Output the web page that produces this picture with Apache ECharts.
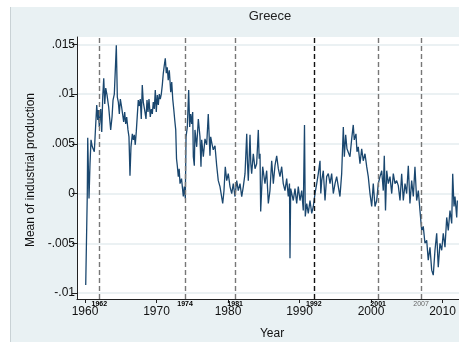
<!DOCTYPE html>
<html>
<head>
<meta charset="utf-8">
<script src="https://cdn.jsdelivr.net/npm/echarts@6/dist/echarts.min.js"></script>
<style>
  html, body { margin: 0; padding: 0; background: #ffffff; }
  #chart { width: 459px; height: 344px; }
</style>
</head>
<body>
<div id="chart"></div>
<script>
// Greece: mean of industrial production over time, with dashed event lines.
const years = [
  1960.10,1960.32,1960.38,1960.56,1960.70,1960.84,1961.02,1961.16,1961.30,1961.47,
  1961.64,1961.78,1961.86,1962.00,1962.20,1962.34,1962.48,1962.62,1962.76,1962.90,
  1963.08,1963.31,1963.59,1963.78,1963.92,1964.10,1964.38,1964.52,1964.66,1964.80,
  1964.94,1965.10,1965.27,1965.41,1965.55,1965.69,1965.83,1966.01,1966.15,1966.29,
  1966.43,1966.62,1966.76,1966.90,1967.03,1967.17,1967.31,1967.45,1967.59,1967.73,
  1967.87,1968.01,1968.15,1968.32,1968.53,1968.67,1968.81,1968.95,1969.13,1969.27,
  1969.41,1969.55,1969.69,1969.83,1969.97,1970.11,1970.25,1970.39,1970.53,1970.67,
  1970.81,1970.95,1971.09,1971.23,1971.37,1971.50,1971.64,1971.79,1971.99,1972.13,
  1972.27,1972.41,1972.55,1972.69,1972.80,1972.91,1973.05,1973.17,1973.29,1973.50,
  1973.75,1973.89,1974.03,1974.13,1974.31,1974.50,1974.64,1974.78,1974.92,1975.06,
  1975.15,1975.29,1975.38,1975.62,1975.85,1976.08,1976.22,1976.32,1976.55,1976.78,
  1977.02,1977.24,1977.48,1977.58,1977.76,1977.94,1978.18,1978.42,1978.64,1978.88,
  1979.26,1979.44,1979.62,1979.82,1980.04,1980.28,1980.52,1980.74,1980.98,1981.22,
  1981.44,1981.68,1981.92,1982.14,1982.38,1982.62,1982.73,1982.84,1983.08,1983.19,
  1983.31,1983.54,1983.78,1984.01,1984.24,1984.36,1984.48,1984.57,1984.85,1985.17,
  1985.41,1985.64,1985.87,1986.11,1986.34,1986.57,1986.81,1987.04,1987.27,1987.51,
  1987.73,1987.97,1988.21,1988.43,1988.60,1988.67,1988.77,1988.91,1989.13,1989.37,
  1989.61,1989.83,1990.07,1990.31,1990.53,1990.70,1990.81,1991.01,1991.23,1991.47,
  1991.71,1991.93,1992.17,1992.41,1992.63,1992.87,1992.98,1993.11,1993.33,1993.57,
  1993.80,1994.03,1994.27,1994.50,1994.73,1994.97,1995.20,1995.43,1995.66,1995.90,
  1996.13,1996.27,1996.46,1996.64,1996.83,1997.06,1997.30,1997.52,1997.66,1997.90,
  1998.04,1998.22,1998.46,1998.70,1998.92,1999.16,1999.40,1999.62,1999.86,2000.10,
  2000.32,2000.56,2000.80,2001.02,2001.26,2001.50,2001.72,2001.86,2002.03,2002.20,
  2002.42,2002.66,2002.90,2003.12,2003.36,2003.59,2003.82,2004.06,2004.29,2004.52,
  2004.76,2004.99,2005.22,2005.45,2005.69,2005.92,2006.15,2006.39,2006.62,2006.85,
  2007.09,2007.31,2007.55,2007.79,2008.01,2008.25,2008.49,2008.71,2008.95,2009.19,
  2009.41,2009.65,2009.89,2010.11,2010.35,2010.59,2010.81,2011.05,2011.29,2011.43,
  2011.61,2011.75,2011.99,2012.08
];
const meanIP = [
  -0.0092,0.0000,0.0056,-0.0005,0.0030,0.0054,0.0047,0.0049,0.0042,0.0043,
  0.0089,0.0074,0.0084,0.0067,0.0085,0.0062,0.0097,0.0116,0.0090,0.0106,
  0.0099,0.0087,0.0064,0.0077,0.0094,0.0100,0.0149,0.0097,0.0092,0.0080,
  0.0095,0.0088,0.0090,0.0072,0.0082,0.0070,0.0077,0.0064,0.0057,0.0018,
  0.0047,0.0060,0.0054,0.0059,0.0049,0.0062,0.0064,0.0094,0.0088,0.0095,
  0.0075,0.0109,0.0092,0.0085,0.0075,0.0094,0.0082,0.0095,0.0077,0.0085,
  0.0080,0.0092,0.0085,0.0104,0.0082,0.0099,0.0089,0.0100,0.0095,0.0100,
  0.0109,0.0121,0.0129,0.0136,0.0121,0.0127,0.0114,0.0124,0.0102,0.0112,
  0.0095,0.0085,0.0074,0.0064,0.0035,0.0028,0.0017,0.0025,0.0010,0.0015,
  -0.0003,0.0007,-0.0005,0.0057,0.0067,0.0104,0.0067,0.0080,0.0070,0.0082,
  0.0037,0.0028,0.0064,0.0047,0.0075,0.0057,0.0027,0.0054,0.0037,0.0055,
  0.0049,0.0080,0.0038,0.0057,0.0050,0.0044,0.0048,0.0028,0.0013,0.0007,
  -0.0010,0.0003,0.0027,0.0013,0.0020,0.0007,0.0000,0.0010,-0.0003,0.0013,
  0.0003,0.0010,-0.0003,0.0007,0.0020,0.0060,0.0030,0.0013,0.0059,0.0030,
  0.0020,0.0040,0.0025,0.0030,0.0064,0.0035,0.0040,-0.0018,0.0027,0.0010,
  0.0023,-0.0010,0.0003,0.0033,0.0010,0.0028,0.0038,0.0025,0.0017,0.0027,
  0.0010,0.0003,0.0015,-0.0003,0.0010,-0.0065,0.0005,0.0003,-0.0007,0.0005,
  -0.0010,0.0007,-0.0007,0.0003,-0.0017,0.0069,-0.0023,-0.0010,-0.0020,-0.0007,
  -0.0020,-0.0013,0.0000,0.0010,0.0020,0.0033,0.0000,0.0013,0.0023,-0.0007,
  0.0017,0.0020,0.0010,0.0020,0.0000,0.0010,0.0017,0.0007,-0.0003,0.0020,
  0.0067,0.0037,0.0059,0.0045,0.0047,0.0037,0.0055,0.0069,0.0054,0.0060,
  0.0042,0.0047,0.0030,0.0045,0.0033,0.0040,0.0027,0.0017,0.0000,-0.0013,
  0.0010,-0.0013,-0.0007,0.0010,0.0017,0.0023,0.0003,0.0038,-0.0017,0.0023,
  0.0010,0.0017,0.0000,0.0020,0.0010,0.0013,0.0008,-0.0007,0.0020,-0.0007,
  0.0010,0.0000,0.0028,-0.0010,0.0013,-0.0003,0.0027,-0.0007,0.0003,-0.0017,
  -0.0037,-0.0033,-0.0050,-0.0047,-0.0067,-0.0054,-0.0077,-0.0082,-0.0057,-0.0040,
  -0.0074,-0.0050,-0.0057,-0.0040,-0.0054,-0.0024,-0.0037,-0.0017,-0.0030,0.0020,
  -0.0013,-0.0003,-0.0024,-0.0007
];

// Event markers drawn as dashed vertical lines
const eventYears = [1962, 1974, 1981, 1992, 2001, 2007];
const eventLabels = ['1962', '1974', '1981', '1992', '2001', '2007'];

// Axis ticks
const xTickValues = [1960, 1970, 1980, 1990, 2000, 2010];
const yTickValues = [-0.01, -0.005, 0, 0.005, 0.01, 0.015];
const yTickLabels = ['-.01', '-.005', '0', '.005', '.01', '.015'];

const points = years.map((y, i) => [y, meanIP[i]]);

const font = 'Liberation Sans, Arial, sans-serif';
const chart = echarts.init(document.getElementById('chart'), null, { renderer: 'canvas' });

const eventStyle = (i) => {
  const black = eventLabels[i] === '1992';
  const faint = eventLabels[i] === '2007';
  return {
    xAxis: eventYears[i],
    lineStyle: { color: black ? '#111111' : '#777777', type: [5, 3], width: 1.4 },
    label: {
      show: true,
      position: 'start',
      distance: 2,
      formatter: eventLabels[i],
      fontFamily: font,
      fontSize: 7,
      fontWeight: faint ? 'normal' : 'bold',
      color: faint ? '#666666' : '#000000'
    }
  };
};

chart.setOption({
  animation: false,
  backgroundColor: '#ffffff',
  graphic: [
    { type: 'rect', z: -10, silent: true, shape: { x: 11, y: 7, width: 448, height: 335 }, style: { fill: '#e9f1f3' } },
    { type: 'line', z: -9, silent: true, shape: { x1: 10.5, y1: 7, x2: 10.5, y2: 342 }, style: { stroke: '#c9d2d5', lineWidth: 1 } },
    { type: 'text', silent: true, style: { text: 'Greece', x: 270, y: 16, align: 'center', verticalAlign: 'middle', fontFamily: font, fontSize: 13, fill: '#222222' } },
    { type: 'text', silent: true, rotation: Math.PI / 2, x: 31, y: 170, style: { text: 'Mean of industrial production', x: 0, y: 0, align: 'center', verticalAlign: 'middle', fontFamily: font, fontSize: 12, fill: '#111111' } },
    { type: 'text', silent: true, style: { text: 'Year', x: 272, y: 334, align: 'center', verticalAlign: 'middle', fontFamily: font, fontSize: 12, fill: '#111111' } }
  ],
  grid: {
    left: 77, top: 37, right: 0, bottom: 45,
    show: true, backgroundColor: '#ffffff', borderWidth: 0
  },
  xAxis: {
    type: 'value',
    min: 1958.88,
    max: 2012.31,
    axisLine: { show: true, onZero: false, lineStyle: { color: '#222222', width: 1 } },
    axisTick: { show: true, length: 4, customValues: xTickValues, lineStyle: { color: '#222222' } },
    axisLabel: { show: true, customValues: xTickValues, margin: 7, fontFamily: font, fontSize: 12, color: '#111111', formatter: (v) => String(Math.round(v)) },
    splitLine: { show: false }
  },
  yAxis: {
    type: 'value',
    min: -0.0106,
    max: 0.01574,
    axisLine: { show: true, onZero: false, lineStyle: { color: '#222222', width: 1 } },
    axisTick: { show: true, length: 5, customValues: yTickValues, lineStyle: { color: '#222222' } },
    axisLabel: {
      show: true, customValues: yTickValues, margin: 2, fontFamily: font, fontSize: 12, color: '#111111',
      formatter: (v) => {
        let best = 0;
        yTickValues.forEach((t, i) => { if (Math.abs(t - v) < Math.abs(yTickValues[best] - v)) best = i; });
        return yTickLabels[best];
      }
    },
    splitLine: { show: true, lineStyle: { color: '#e4ecef', width: 1.5 } }
  },
  series: [{
    type: 'line',
    data: points,
    showSymbol: false,
    clip: true,
    lineStyle: { color: '#1a476f', width: 1.3 },
    itemStyle: { color: '#1a476f' },
    markLine: {
      silent: true,
      symbol: ['none', 'none'],
      animation: false,
      data: eventYears.map((_, i) => eventStyle(i))
    },
    z: 3
  }]
});
</script>
</body>
</html>
